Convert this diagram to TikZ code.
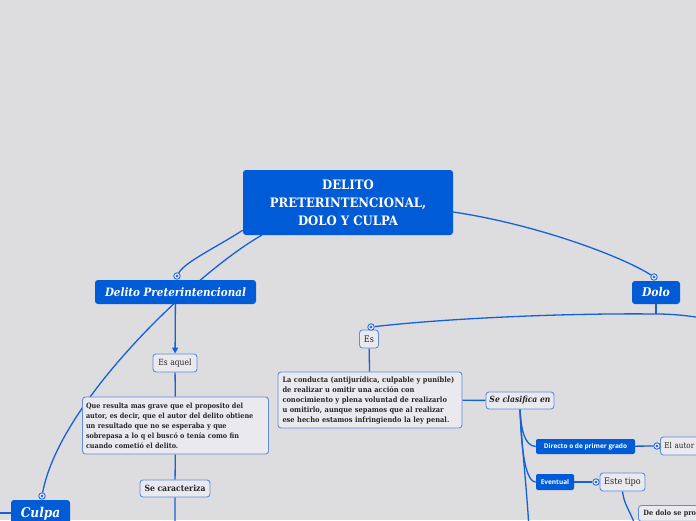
\documentclass[tikz,border=0pt]{standalone}
\usepackage{fontspec}
\setmainfont{DejaVu Serif Condensed}
\setsansfont{Open Sans}
\usetikzlibrary{positioning,arrows.meta}
\pgfdeclarelayer{background}
\pgfsetlayers{background,main}
\definecolor{canvas}{RGB}{221,220,222}
\definecolor{mmblue}{RGB}{0,92,214}
\definecolor{linkblue}{RGB}{20,98,218}
\definecolor{boxfill}{RGB}{233,233,238}
\definecolor{boxline}{RGB}{96,140,228}
\definecolor{ink}{RGB}{40,40,40}

\begin{document}
\begin{tikzpicture}[x=1pt,y=-1pt,
  topic/.style={fill=mmblue,rounded corners=3pt,text=white,inner sep=0pt,align=center},
  tag/.style={fill=mmblue,rounded corners=2pt,text=white,inner sep=0pt,font=\sffamily\bfseries\fontsize{6.5}{8}\selectfont},
  sub/.style={fill=boxfill,draw=boxline,line width=0.9pt,rounded corners=3pt,text=ink,inner sep=0pt},
  para/.style={sub,align=left,inner xsep=4.5pt,font=\bfseries\fontsize{7.4}{10}\selectfont},
  link/.style={draw=linkblue,line width=1.3pt},
  knob/.style={circle,draw=linkblue,fill=boxfill,line width=0.8pt,minimum size=6.5pt,inner sep=0pt,
    path picture={\fill[linkblue] (path picture bounding box.center) circle (1.3pt);}}]
  \useasboundingbox (0,0) rectangle (696,520);
  \clip (0,0) rectangle (696,520);

  \node[topic,minimum width=210pt,minimum height=65pt,font=\bfseries\fontsize{13}{18}\selectfont] (main) at (348,202.5) {DELITO\\PRETERINTENCIONAL,\\DOLO Y CULPA};
  \node[topic,minimum width=161pt,minimum height=24pt,font=\bfseries\itshape\fontsize{11.5}{14}\selectfont] (pret) at (175.5,292) {Delito Preterintencional};
  \node[topic,minimum width=48pt,minimum height=23pt,font=\bfseries\itshape\fontsize{12}{14}\selectfont] (dolo) at (656,292.5) {Dolo};
  \node[topic,minimum width=59pt,minimum height=28pt,font=\bfseries\itshape\fontsize{13.5}{16}\selectfont] (culpa) at (40.5,514) {Culpa};

  \node[sub,minimum width=44pt,minimum height=18pt,font=\fontsize{8.5}{10}\selectfont] (esaquel) at (175,363) {Es aquel};
  \node[para,text width=179pt,inner xsep=3.5pt,minimum height=57pt,font=\bfseries\fontsize{7.2}{10}\selectfont] (resulta) at (175.5,425.5) {Que resulta mas grave que el proposito del\\autor, es decir,  que el autor del delito obtiene\\un resultado que no se esperaba y que\\sobrepasa a lo q el buscó o tenía como fin\\cuando cometió el delito.};
  \node[sub,minimum width=70pt,minimum height=17pt,font=\bfseries\fontsize{8.5}{10}\selectfont] (caract) at (175,488.5) {Se caracteriza};

  \node[sub,minimum width=19pt,minimum height=18pt,font=\fontsize{9}{10}\selectfont] (es) at (369,339) {Es};
  \node[para,text width=175pt,minimum height=56pt] (conducta) at (370,400) {La conducta (antijurídica, culpable y punible)\\de realizar u omitir una acción con\\conocimiento y plena voluntad de realizarlo\\u omitirlo, aunque sepamos que al realizar\\ese hecho estamos infringiendo la ley penal.};
  \node[sub,minimum width=68pt,minimum height=17pt,font=\bfseries\itshape\fontsize{8.5}{10}\selectfont] (clasif) at (520,400.5) {Se clasifica en};
  \node[tag,minimum width=99pt,minimum height=15pt] (directo) at (585.5,446.5) {Directo o de primer grado};
  \node[tag,minimum width=38pt,minimum height=16pt] (eventual) at (555,482) {Eventual};
  \node[sub,anchor=west,minimum width=50pt,minimum height=18pt,inner xsep=4pt,align=left,text width=42pt,font=\fontsize{8}{10}\selectfont] (autor) at (660,446) {El autor};
  \node[sub,minimum width=45pt,minimum height=18pt,font=\fontsize{9}{10}\selectfont] (tipo) at (622.5,482) {Este tipo};
  \node[sub,anchor=north west,inner xsep=5pt,inner ysep=4.5pt,text width=70pt,align=left,font=\bfseries\fontsize{7.2}{10}\selectfont] (dedolo) at (638,505) {De dolo se pro};

  \node[knob] (pretk) at (177,276) {};
  \node[knob] (dolok) at (654,277) {};
  \node[knob] (culpak) at (42,496) {};
  \node[knob] (esk) at (371,327) {};
  \node[knob] (autork) at (657,446) {};
  \node[knob] (tipok) at (596,482) {};

  \coordinate (doloj) at (656,314);
  \coordinate (rightend) at (702,318);
  \coordinate (pretend) at (175,530);
  \coordinate (clasifend) at (529,530);
  \coordinate (tipoend) at (637,530);
  \coordinate (culpaout) at (-5,513);

  \begin{pgfonlayer}{background}
    \fill[canvas] (0,0) rectangle (696,520);
    \draw[link] ([yshift=5pt]main.south west) .. controls (215,248) and (185,262) .. (pretk);
    \draw[link] ([xshift=19pt]main.south west) .. controls (200,270) and (60,400) .. (culpak);
    \draw[link] ([yshift=-9.5pt]main.east) .. controls (540,225) and (625,258) .. (dolok);
    \draw[link,-{Triangle[width=6pt,length=6pt]}] (pret) -- (esaquel);
    \draw[link] (esaquel) -- (resulta) (resulta) -- (caract) (caract) -- (pretend);
    \draw[link] (dolo) -- (doloj);
    \draw[link] (esk) .. controls (450,318) and (570,313) .. (doloj) .. controls (675,314) and (690,316) .. (rightend);
    \draw[link] (es) -- (conducta);
    \draw[link] (conducta) -- (clasif);
    \draw[link] (clasif.south) .. controls (521,428) and (524,446) .. (directo.west);
    \draw[link] (clasif.south) .. controls (521,440) and (524,482) .. (eventual.west);
    \draw[link] (clasif.south) .. controls (522,450) and (527,490) .. (clasifend);
    \draw[link] (directo) -- (autork);
    \draw[link] (eventual) -- (tipok);
    \draw[link] (tipo.south) .. controls (624,505) and (630,510) .. (tipoend);
    \draw[link] (culpaout) -- (culpaout -| culpa.west);
  \end{pgfonlayer}
\end{tikzpicture}
\end{document}
